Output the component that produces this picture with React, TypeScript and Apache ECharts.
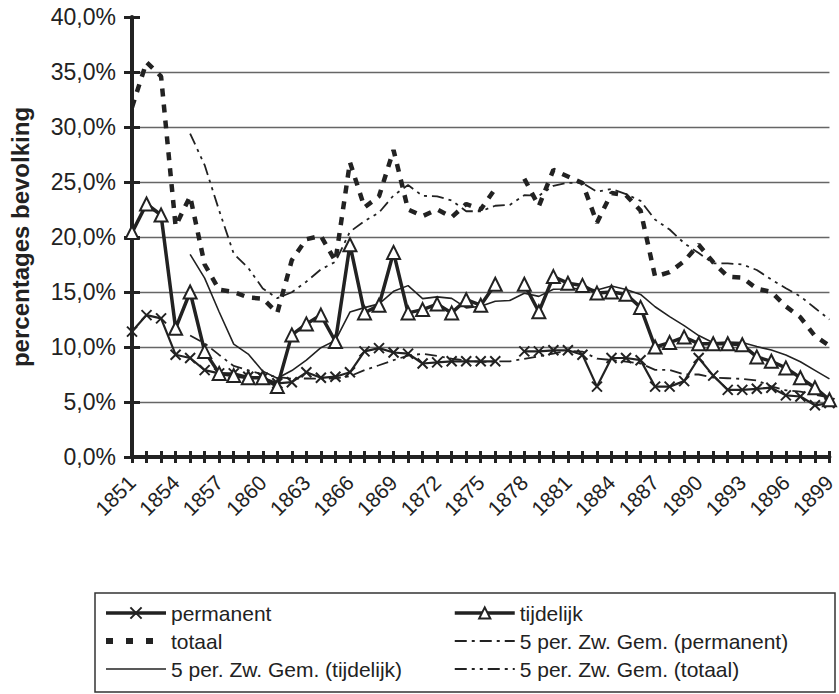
import React, { useEffect, useRef } from "react";
import * as echarts from "echarts";

const years: string[] = [];
for (let y = 1851; y <= 1899; y++) years.push(String(y));

const permanent: (number | null)[] = [
  11.4, 12.9, 12.6, 9.3, 9.0, 7.9, 7.6, 7.6, 7.3, 7.2,
  6.7, 6.8, 7.7, 7.2, 7.3, 7.7, 9.6, 9.9, 9.5, 9.4,
  8.5, 8.6, 8.7, 8.7, 8.7, 8.7, null, 9.6, 9.6, 9.7,
  9.7, 9.3, 6.4, 9.0, 9.0, 8.8, 6.4, 6.4, 6.9, 9.0,
  7.4, 6.1, 6.1, 6.2, 6.3, 5.6, 5.5, 4.7, 4.9,
];

const tijdelijk: (number | null)[] = [
  20.4, 23.0, 22.0, 11.7, 15.0, 9.6, 7.6, 7.4, 7.2, 7.2,
  6.4, 11.1, 12.1, 12.9, 10.5, 19.3, 13.1, 13.8, 18.6, 13.1,
  13.4, 13.9, 13.1, 14.3, 13.8, 15.7, null, 15.7, 13.2, 16.4,
  15.8, 15.6, 14.9, 15.0, 14.8, 13.6, 10.0, 10.4, 10.9, 10.3,
  10.3, 10.3, 10.2, 9.1, 8.7, 8.1, 7.2, 6.3, 5.2,
];

const totaal: (number | null)[] = [
  31.8, 35.9, 34.6, 21.0, 23.7, 17.5, 15.2, 15.0, 14.5, 14.4,
  13.1, 17.9, 19.8, 20.1, 17.8, 26.8, 22.7, 23.7, 27.9, 22.5,
  21.9, 22.5, 21.8, 23.0, 22.5, 24.4, null, 25.3, 22.8, 26.1,
  25.5, 24.9, 21.3, 24.0, 23.8, 22.4, 16.4, 16.8, 17.8, 19.3,
  17.7, 16.4, 16.3, 15.3, 15.0, 13.7, 12.7, 11.0, 10.1,
];

const yTicks = [0, 5, 10, 15, 20, 25, 30, 35, 40];

// 5-period trailing moving average (Excel "Zw. Gem." trendline)
function movingAverage(values: (number | null)[], period: number) {
  return values.map((_, i) => {
    if (i < period - 1) return null;
    const w = values.slice(i - period + 1, i + 1).filter((v) => v != null) as number[];
    if (!w.length) return null;
    return Math.round((w.reduce((a, b) => a + b, 0) / w.length) * 100) / 100;
  });
}

const FONT = "'Liberation Sans', Arial, sans-serif";
const INK = "#222";
const HIDDEN_SYMBOL = { color: "rgba(0,0,0,0)", borderColor: "rgba(0,0,0,0)", borderWidth: 0 };

const DASH_TOTAAL = [8, 8];
const DASH_TOTAAL_LEGEND = [7, 13];
const DASH_MA_PERM = [12, 5, 3, 5];
const DASH_MA_TOT = [12, 5, 3, 5, 3, 5];

export default function App() {
  const ref = useRef<HTMLDivElement>(null);
  useEffect(() => {
    if (!ref.current) return;
    const chart = echarts.init(ref.current, undefined, { renderer: "svg" });
    const catAxisBase = {
      type: "category",
      data: years,
      boundaryGap: false,
      position: "bottom",
    };
    const valAxisBase = {
      type: "value",
      min: yTicks[0],
      max: yTicks[yTicks.length - 1],
      interval: 5,
      position: "left",
    };
    const legendCommon = {
      orient: "vertical",
      top: 597,
      itemWidth: 60,
      itemHeight: 14,
      itemGap: 6,
      selectedMode: false,
      textStyle: { fontSize: 21, lineHeight: 22, color: INK, fontFamily: FONT },
    };
    const option: any = {
      animation: false,
      backgroundColor: "#fff",
      grid: { left: 131, right: 8, top: 17, bottom: 237, containLabel: false },
      xAxis: [
        {
          ...catAxisBase,
          axisLine: { show: true, lineStyle: { color: INK, width: 4 } },
          axisTick: { show: true, interval: 0, length: 6, lineStyle: { color: INK, width: 3 } },
          axisLabel: {
            interval: 2,
            rotate: 45,
            margin: 22,
            fontSize: 21,
            color: INK,
            fontFamily: FONT,
          },
          splitLine: { show: false },
        },
        {
          ...catAxisBase,
          axisLine: { show: false },
          axisTick: { show: true, inside: true, interval: 0, length: 6, lineStyle: { color: INK, width: 3 } },
          axisLabel: { show: false },
          splitLine: { show: false },
        },
      ],
      yAxis: [
        {
          ...valAxisBase,
          name: "percentages bevolking",
          nameLocation: "middle",
          nameGap: 100,
          nameRotate: 90,
          nameTextStyle: { fontSize: 24, fontWeight: "bold", color: INK, fontFamily: FONT },
          axisLine: { show: true, lineStyle: { color: INK, width: 4 } },
          axisTick: { show: true, length: 8, lineStyle: { color: INK, width: 3 } },
          axisLabel: {
            margin: 16,
            fontSize: 23,
            color: INK,
            fontFamily: FONT,
            formatter: (v: number) => v.toFixed(1).replace(".", ",") + "%",
          },
          splitLine: {
            show: true,
            lineStyle: {
              width: 1.3,
              color: ["#666", "#666", "#666", "#666", "#666", "#666", "#666", "#666", "rgba(0,0,0,0)"],
            },
          },
        },
        {
          ...valAxisBase,
          axisLine: { show: false },
          axisTick: { show: true, inside: true, length: 8, lineStyle: { color: INK, width: 3 } },
          axisLabel: { show: false },
          splitLine: { show: false },
        },
      ],
      legend: [
        {
          ...legendCommon,
          left: 98,
          data: [
            { name: "permanent", lineStyle: { width: 3.5 } },
            { name: "totaal", lineStyle: { width: 6, type: DASH_TOTAAL_LEGEND }, itemStyle: HIDDEN_SYMBOL },
            { name: "5 per. Zw. Gem. (tijdelijk)", lineStyle: { width: 1.6 }, itemStyle: HIDDEN_SYMBOL },
          ],
        },
        {
          ...legendCommon,
          left: 448,
          data: [
            { name: "tijdelijk", lineStyle: { width: 3.5 } },
            { name: "5 per. Zw. Gem. (permanent)", lineStyle: { width: 1.8, type: DASH_MA_PERM }, itemStyle: HIDDEN_SYMBOL },
            { name: "5 per. Zw. Gem. (totaal)", lineStyle: { width: 1.8, type: DASH_MA_TOT }, itemStyle: HIDDEN_SYMBOL },
          ],
        },
      ],
      graphic: [
        {
          type: "rect",
          shape: { x: 95, y: 593, width: 740, height: 99 },
          style: { fill: "none", stroke: "#333", lineWidth: 1.5 },
          silent: true,
          z: -1,
        },
      ],
      series: [
        {
          name: "permanent",
          type: "line",
          data: permanent,
          symbol: "path://M0,0L10,10M10,0L0,10",
          symbolSize: 10,
          showAllSymbol: true,
          lineStyle: { color: INK, width: 2.2 },
          itemStyle: { color: INK, borderColor: INK, borderWidth: 2 },
        },
        {
          name: "tijdelijk",
          type: "line",
          data: tijdelijk,
          symbol: "triangle",
          symbolSize: 13,
          showAllSymbol: true,
          lineStyle: { color: INK, width: 3.5 },
          itemStyle: { color: "#fff", borderColor: INK, borderWidth: 2 },
        },
        {
          name: "totaal",
          type: "line",
          data: totaal,
          symbol: "none",
          lineStyle: { color: INK, width: 4.5, type: DASH_TOTAAL, cap: "butt" },
          itemStyle: { color: INK },
        },
        {
          name: "5 per. Zw. Gem. (permanent)",
          type: "line",
          data: movingAverage(permanent, 5),
          symbol: "none",
          connectNulls: true,
          lineStyle: { color: INK, width: 1.8, type: DASH_MA_PERM },
          itemStyle: { color: INK },
        },
        {
          name: "5 per. Zw. Gem. (tijdelijk)",
          type: "line",
          data: movingAverage(tijdelijk, 5),
          symbol: "none",
          connectNulls: true,
          lineStyle: { color: INK, width: 1.6 },
          itemStyle: { color: INK },
        },
        {
          name: "5 per. Zw. Gem. (totaal)",
          type: "line",
          data: movingAverage(totaal, 5),
          symbol: "none",
          connectNulls: true,
          lineStyle: { color: INK, width: 1.8, type: DASH_MA_TOT },
          itemStyle: { color: INK },
        },
      ],
    };
    chart.setOption(option);
    return () => chart.dispose();
  }, []);
  return (
    <div
      ref={ref}
      style={{ position: "absolute", left: 0, top: 0, width: 839, height: 694, background: "#fff" }}
    />
  );
}
